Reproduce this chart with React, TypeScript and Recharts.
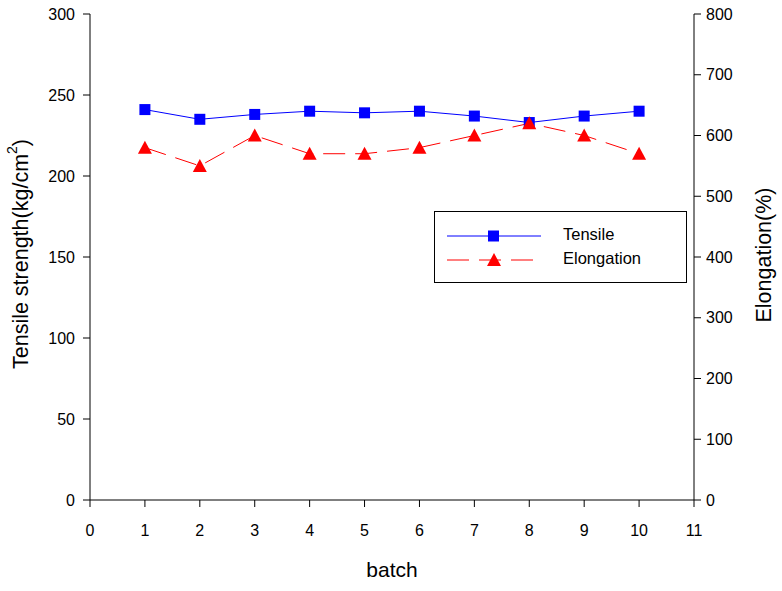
import React from 'react';
import { ComposedChart, Line, XAxis, YAxis } from 'recharts';

const batches = [1, 2, 3, 4, 5, 6, 7, 8, 9, 10];
const tensile = [241, 235, 238, 240, 239, 240, 237, 233, 237, 240];
const elongation = [580, 550, 600, 570, 570, 580, 600, 620, 600, 570];

const xTicks = [0, 1, 2, 3, 4, 5, 6, 7, 8, 9, 10, 11];
const leftTicks = [0, 50, 100, 150, 200, 250, 300];
const rightTicks = [0, 100, 200, 300, 400, 500, 600, 700, 800];

const data = batches.map((b, i) => ({ batch: b, tensile: tensile[i], elongation: elongation[i] }));

const FONT = '"Liberation Sans", Arial, sans-serif';
const tickStyle = { fontSize: 16, fill: '#000', fontFamily: FONT };

const Square = (props: any) => {
  const { cx, cy, key } = props;
  if (cx == null || cy == null) return null;
  return <rect key={key} x={cx - 5.5} y={cy - 5.5} width={11} height={11} fill="#0000ff" />;
};

const Triangle = (props: any) => {
  const { cx, cy, key } = props;
  if (cx == null || cy == null) return null;
  return <polygon key={key} points={`${cx},${cy - 7} ${cx - 7},${cy + 6} ${cx + 7},${cy + 6}`} fill="#ff0000" />;
};

const LeftLabel = () => {
  const cx = 21;
  const cy = 254;
  return (
    <text x={cx} y={cy} transform={`rotate(-90, ${cx}, ${cy})`} textAnchor="middle" dominantBaseline="central"
      style={{ fontSize: 21.5, fontFamily: FONT, fill: '#000' }}>
      Tensile strength(kg/cm<tspan dy={-9} fontSize={14}>2</tspan><tspan dy={9}>)</tspan>
    </text>
  );
};

const RightLabel = () => {
  const cx = 764;
  const cy = 255;
  return (
    <text x={cx} y={cy} transform={`rotate(-90, ${cx}, ${cy})`} textAnchor="middle" dominantBaseline="central"
      style={{ fontSize: 21.5, fontFamily: FONT, fill: '#000' }}>
      Elongation(%)
    </text>
  );
};

const BottomLabel = (props: any) => {
  const vb = props.viewBox || {};
  return (
    <text x={vb.x + vb.width / 2} y={577} textAnchor="middle"
      style={{ fontSize: 21, fontFamily: FONT, fill: '#000' }}>
      batch
    </text>
  );
};

const LegendBox = () => (
  <div style={{ position: 'absolute', left: 434, top: 211, width: 253, height: 72, border: '1px solid #000', background: '#fff', boxSizing: 'border-box', fontFamily: FONT, fontSize: 16.5 }}>
    <svg width={110} height={70} style={{ position: 'absolute', left: 0, top: 0 }}>
      <line x1={12} x2={106} y1={24} y2={24} stroke="#0000ff" strokeWidth={1} />
      <rect x={53} y={18.5} width={11} height={11} fill="#0000ff" />
      <line x1={12} x2={104} y1={48} y2={48} stroke="#ff0000" strokeWidth={1} strokeDasharray="22 10" />
      <polygon points="59,41 52,54 66,54" fill="#ff0000" />
    </svg>
    <div style={{ position: 'absolute', left: 128, top: 13 }}>Tensile</div>
    <div style={{ position: 'absolute', left: 128, top: 37 }}>Elongation</div>
  </div>
);

export default function App() {
  return (
    <div style={{ position: 'absolute', left: 0, top: 0, width: 782, height: 591, background: '#fff' }}>
      <ComposedChart width={782} height={591} data={data} margin={{ top: 14, right: 20, bottom: 51, left: 20 }}>
        <XAxis dataKey="batch" type="number" domain={[0, 11]} ticks={xTicks} interval={0}
          stroke="#000" tick={tickStyle} tickSize={7} tickMargin={18} height={40}
          label={<BottomLabel />} />
        <XAxis xAxisId="top" orientation="top" type="number" domain={[0, 11]} tick={false} tickLine={false} height={0} stroke="#000" />
        <YAxis yAxisId="left" domain={[0, 300]} ticks={leftTicks} interval={0} stroke="#000"
          tick={tickStyle} tickSize={7} tickMargin={8} width={70} label={<LeftLabel />} />
        <YAxis yAxisId="right" orientation="right" domain={[0, 800]} ticks={rightTicks} interval={0} stroke="#000"
          tick={tickStyle} tickSize={7} tickMargin={5} width={68} label={<RightLabel />} />
        <Line yAxisId="left" dataKey="tensile" name="Tensile" stroke="#0000ff" strokeWidth={1}
          dot={Square} activeDot={false} isAnimationActive={false} />
        <Line yAxisId="right" dataKey="elongation" name="Elongation" stroke="#ff0000" strokeWidth={1}
          strokeDasharray="22 10" dot={Triangle} activeDot={false} isAnimationActive={false} />
      </ComposedChart>
      <LegendBox />
    </div>
  );
}
